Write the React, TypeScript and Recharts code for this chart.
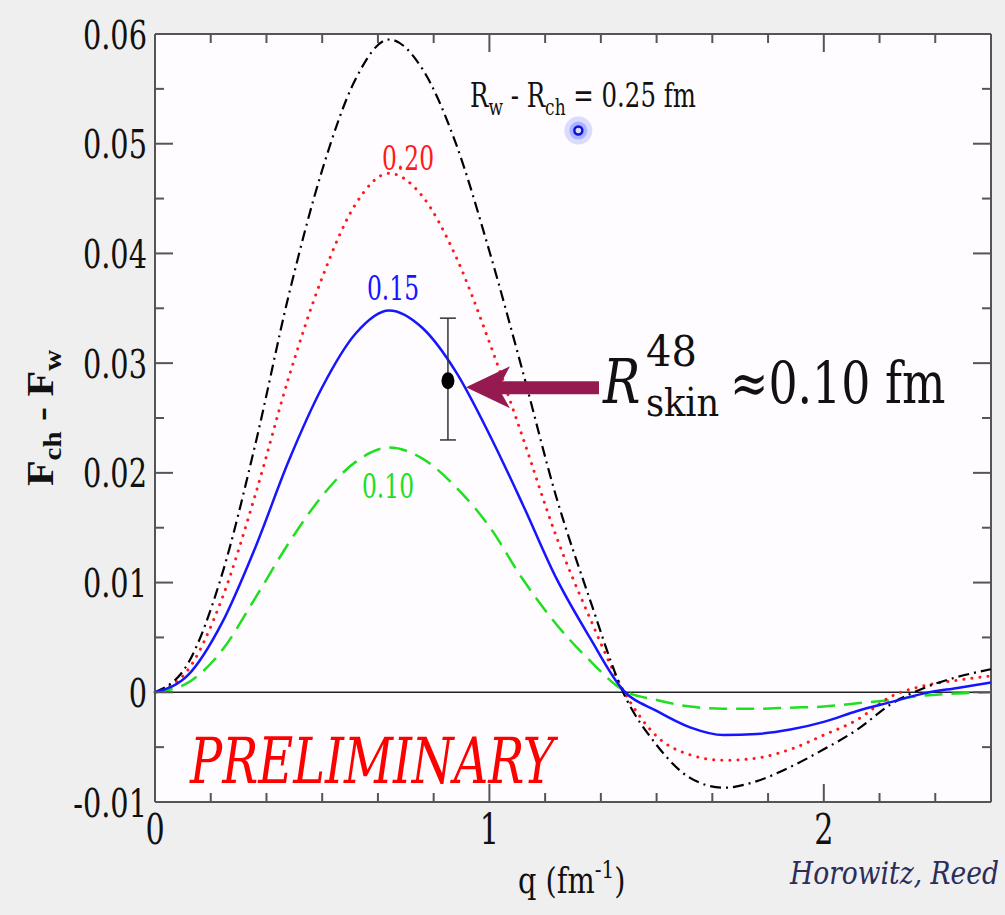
import {
  ComposedChart,
  Line,
  Scatter,
  ErrorBar,
  XAxis,
  YAxis,
  CartesianGrid,
  ReferenceLine,
  ReferenceDot,
} from 'recharts';

// momentum transfer q (fm^-1)
const Q = [
  0, 0.1, 0.2, 0.3, 0.4, 0.5, 0.6, 0.7, 0.8, 0.9, 1.0, 1.1, 1.2, 1.3, 1.4, 1.5, 1.6, 1.7, 1.8,
  1.9, 2.0, 2.1, 2.2, 2.3, 2.4, 2.5,
];

// F_ch - F_w for each R_w - R_ch value
const DIFF_025 = [
  0, 0.0027, 0.0107, 0.0226, 0.0362, 0.0476, 0.0559, 0.0595, 0.0568, 0.05, 0.0402, 0.0292,
  0.0178, 0.0085, 0.0, -0.0048, -0.0078, -0.0087, -0.0081, -0.0068, -0.0052, -0.0034, -0.0011,
  0.0004, 0.0014, 0.0021,
];
const DIFF_020 = [
  0, 0.0021, 0.0085, 0.018, 0.0287, 0.0378, 0.0445, 0.0473, 0.0452, 0.0397, 0.0319, 0.0232,
  0.0142, 0.0068, 0.0002, -0.004, -0.0057, -0.0062, -0.006, -0.0052, -0.0039, -0.0025, -0.0004,
  0.0006, 0.0011, 0.0015,
];
const DIFF_015 = [
  0, 0.0016, 0.0063, 0.0132, 0.0211, 0.0278, 0.0327, 0.0348, 0.0332, 0.0292, 0.0235, 0.0171,
  0.0104, 0.005, 0.0002, -0.0017, -0.0032, -0.0039, -0.0038, -0.0034, -0.0027, -0.0017,
  -0.0009, -0.0001, 0.0004, 0.0009,
];
const DIFF_010 = [
  0, 0.0009, 0.0038, 0.0086, 0.0136, 0.0179, 0.021, 0.0223, 0.0213, 0.0187, 0.0151, 0.0103,
  0.0062, 0.0029, 0.0002, -0.0007, -0.0013, -0.0015, -0.0015, -0.0014, -0.0013, -0.001,
  -0.0007, -0.0003, -0.0001, 0.0,
];

// measured point with error bar
const POINT_Q = [0.876];
const POINT_F = [0.0284];
const POINT_ERR = [[0.0054, 0.0057]];

const X_TICKS = Array.from({ length: 16 }, (_, i) => i / 6);
const Y_TICKS = Array.from({ length: 15 }, (_, i) => -0.01 + i * 0.005);

const W = 1005;
const H = 915;
const PLOT = { left: 155, right: 991, top: 34, bottom: 802 };
// regular Liberation Serif falls back to a sans face here, DejaVu Serif does not
const FONT = 'DejaVu Serif';
const FONT_BOLD = 'Liberation Serif';

const rows = Q.map((q, i) => ({
  q,
  r25: DIFF_025[i],
  r20: DIFF_020[i],
  r15: DIFF_015[i],
  r10: DIFF_010[i],
}));
const point = POINT_Q.map((q, i) => ({ q, f: POINT_F[i], err: POINT_ERR[i] }));

function XTick(props: any) {
  const { x, payload } = props;
  const v: number = payload.value;
  const major = Math.abs(v - Math.round(v)) < 1e-6;
  const len = major ? 18 : 9;
  return (
    <g>
      <line x1={x} x2={x} y1={PLOT.bottom} y2={PLOT.bottom - len} stroke="#555" strokeWidth={2} />
      <line x1={x} x2={x} y1={PLOT.top} y2={PLOT.top + len} stroke="#555" strokeWidth={2} />
      {major && (
        <text
          transform={`translate(${x},${PLOT.bottom + 42}) scale(0.72,1)`}
          textAnchor="middle"
          style={{ fontFamily: FONT, fontSize: 42, fill: '#111' }}
        >
          {Math.round(v)}
        </text>
      )}
    </g>
  );
}

function YTick(props: any) {
  const { y, payload } = props;
  const v: number = payload.value;
  const major = Math.abs(v * 100 - Math.round(v * 100)) < 1e-6;
  const len = major ? 18 : 9;
  const label = Math.abs(v) < 1e-9 ? '0' : v.toFixed(2);
  return (
    <g>
      <line x1={PLOT.left} x2={PLOT.left + len} y1={y} y2={y} stroke="#555" strokeWidth={2} />
      <line x1={PLOT.right} x2={PLOT.right - len} y1={y} y2={y} stroke="#555" strokeWidth={2} />
      {major && (
        <text
          transform={`translate(${PLOT.left - 8},${y + 14.5}) scale(0.72,1)`}
          textAnchor="end"
          style={{ fontFamily: FONT, fontSize: 40, fill: '#111' }}
        >
          {label}
        </text>
      )}
    </g>
  );
}

// maroon arrow pointing left, tip at the reference position
function ArrowShape(props: any) {
  const { cx, cy } = props;
  const pts = [
    [0, 0],
    [44, -21],
    [36, -6],
    [133, -6],
    [133, 7],
    [36, 7],
    [44, 21],
  ]
    .map(([dx, dy]) => `${cx + dx},${cy + dy}`)
    .join(' ');
  return <polygon points={pts} fill="#951a4f" />;
}

// the stray cursor spot in the source frame
function CursorShape(props: any) {
  const { cx, cy } = props;
  return (
    <g>
      <circle cx={cx} cy={cy} r={14} fill="#c9ceff" opacity={0.7} />
      <circle cx={cx} cy={cy} r={9} fill="#9fa8ff" opacity={0.8} />
      <circle cx={cx} cy={cy} r={4} fill="#dde" stroke="#1010d8" strokeWidth={2.5} />
    </g>
  );
}

function Dot(props: any) {
  const { cx, cy } = props;
  return <ellipse cx={cx} cy={cy} rx={6.5} ry={8.5} fill="#000" />;
}

function T({ x, y, size, children, anchor = 'start', italic, color = '#111', sx = 0.72 }: any) {
  return (
    <text
      transform={`translate(${x},${y}) scale(${sx},1)`}
      textAnchor={anchor}
      style={{
        fontFamily: FONT,
        fontSize: size,
        fontStyle: italic ? 'italic' : 'normal',
        fill: color,
      }}
    >
      {children}
    </text>
  );
}

export default function App() {
  return (
    <div
      style={{
        position: 'absolute',
        left: 0,
        top: 0,
        width: W,
        height: H,
        background: '#efefef',
        overflow: 'hidden',
      }}
    >
      <ComposedChart
        width={W}
        height={H}
        data={rows}
        margin={{ top: PLOT.top, right: W - PLOT.right, bottom: 0, left: 0 }}
      >
        <CartesianGrid horizontal={false} vertical={false} fill="#fffcff" />
        <XAxis
          dataKey="q"
          type="number"
          domain={[0, 2.5]}
          ticks={X_TICKS}
          interval={0}
          height={H - PLOT.bottom}
          tick={<XTick />}
          tickLine={false}
          axisLine={{ stroke: '#555', strokeWidth: 2 }}
        />
        <YAxis
          type="number"
          domain={[-0.01, 0.06]}
          ticks={Y_TICKS}
          interval={0}
          width={PLOT.left}
          tick={<YTick />}
          tickLine={false}
          axisLine={{ stroke: '#555', strokeWidth: 2 }}
        />
        <ReferenceLine y={0.06} stroke="#555" strokeWidth={2} />
        <ReferenceLine x={2.5} stroke="#555" strokeWidth={2} />
        <ReferenceLine y={0} stroke="#222" strokeWidth={1.5} />
        <Line
          dataKey="r10"
          type="monotone"
          stroke="#1ee01e"
          strokeWidth={2.5}
          strokeDasharray="18 9"
          dot={false}
          activeDot={false}
          isAnimationActive={false}
        />
        <Line
          dataKey="r20"
          type="monotone"
          stroke="#ff1a1a"
          strokeWidth={3}
          strokeDasharray="0.1 8"
          strokeLinecap="round"
          dot={false}
          activeDot={false}
          isAnimationActive={false}
        />
        <Line
          dataKey="r25"
          type="monotone"
          stroke="#000"
          strokeWidth={2.2}
          strokeDasharray="11 5 2 5"
          dot={false}
          activeDot={false}
          isAnimationActive={false}
        />
        <Line
          dataKey="r15"
          type="monotone"
          stroke="#1515ff"
          strokeWidth={2.5}
          dot={false}
          activeDot={false}
          isAnimationActive={false}
        />
        <Scatter data={point} dataKey="f" shape={<Dot />} isAnimationActive={false}>
          <ErrorBar dataKey="err" direction="y" width={8} stroke="#333" strokeWidth={1.5} />
        </Scatter>
        <ReferenceDot x={0.93} y={0.0278} shape={<ArrowShape />} />
        <ReferenceDot x={1.266} y={0.0512} shape={<CursorShape />} />
      </ComposedChart>

      <svg
        width={W}
        height={H}
        style={{ position: 'absolute', left: 0, top: 0, pointerEvents: 'none' }}
      >
        {/* axis titles */}
        <text
          transform="translate(53,418) rotate(-90) scale(1,0.9)"
          textAnchor="middle"
          style={{ fontFamily: FONT_BOLD, fontSize: 42, fontWeight: 'bold', fill: '#111' }}
        >
          F<tspan fontSize={29} dy={9}>ch</tspan>
          <tspan dy={-9}> - F</tspan>
          <tspan fontSize={29} dy={9}>w</tspan>
        </text>
        <T x={518} y={893} size={36} sx={0.8}>
          q (fm<tspan fontSize={25} dy={-15}>-1</tspan>
          <tspan dy={15}>)</tspan>
        </T>

        {/* curve labels */}
        <T x={470} y={107} size={33} sx={0.74}>
          R<tspan fontSize={23} dy={8}>w</tspan>
          <tspan dy={-8}> - R</tspan>
          <tspan fontSize={23} dy={8}>ch</tspan>
          <tspan dy={-8}> = 0.25 fm</tspan>
        </T>
        <T x={408} y={170} size={33} sx={0.71} anchor="middle" color="#ff1a1a">
          0.20
        </T>
        <T x={393} y={300} size={33} sx={0.71} anchor="middle" color="#1515ff">
          0.15
        </T>
        <T x={388} y={498} size={33} sx={0.71} anchor="middle" color="#1ee01e">
          0.10
        </T>

        {/* measurement annotation */}
        <T x={603} y={403} size={62} sx={0.8} italic>
          R
        </T>
        <T x={646} y={366} size={42} sx={0.95}>
          48
        </T>
        <T x={646} y={416} size={40} sx={0.88}>
          skin
        </T>
        <T x={730} y={403} size={58} sx={0.79}>
          ≈0.10 fm
        </T>

        <T x={190} y={783} size={63} sx={0.76} italic color="#ff0000">
          PRELIMINARY
        </T>
        <T x={790} y={884} size={32} sx={0.83} italic color="#2b2d5a">
          Horowitz, Reed
        </T>
      </svg>
    </div>
  );
}
